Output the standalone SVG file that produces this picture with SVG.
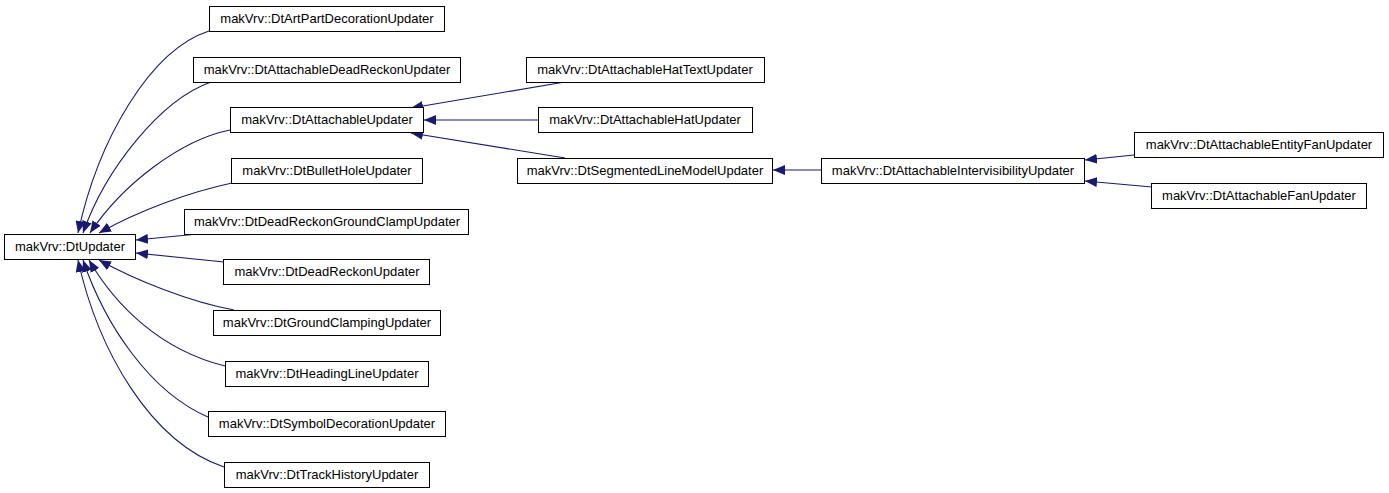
<svg xmlns="http://www.w3.org/2000/svg" width="1389" height="493" viewBox="0 0 1389 493">
<defs>
<style>
.n rect{fill:#ffffff;stroke:#000000;stroke-width:1}
.n text{font-family:"Liberation Sans",Arial,sans-serif;font-size:13px;fill:#000000;text-anchor:middle}
.e path{fill:none;stroke:#191970;stroke-width:1.1}
</style>
<marker id="ah" markerUnits="userSpaceOnUse" viewBox="0 0 12 10" refX="12" refY="5" markerWidth="12" markerHeight="10" orient="auto">
<path d="M0,0 L12,5 L0,10 Z" fill="#191970"/>
</marker>
</defs>
<rect width="1389" height="493" fill="#ffffff"/>
<g id="edges" class="e">
<path d="M209,31 C150,50 98,140 78,233" marker-end="url(#ah)"/>
<path d="M211,82 C160,100 105,170 83,233" marker-end="url(#ah)"/>
<path d="M230,130 C180,140 122,185 90,233" marker-end="url(#ah)"/>
<path d="M232,183 C190,192 140,210 99,233" marker-end="url(#ah)"/>
<path d="M198,234 L136,240" marker-end="url(#ah)"/>
<path d="M224,262 L136,253" marker-end="url(#ah)"/>
<path d="M234,310 C190,302 135,280 99,260" marker-end="url(#ah)"/>
<path d="M225,366 C160,350 115,305 89,260" marker-end="url(#ah)"/>
<path d="M208,417 C150,392 105,325 83,260" marker-end="url(#ah)"/>
<path d="M224,467 C150,442 98,350 78,260" marker-end="url(#ah)"/>
<path d="M565,82 L411,108" marker-end="url(#ah)"/>
<path d="M538,120 L424,120" marker-end="url(#ah)"/>
<path d="M565,158 L411,133" marker-end="url(#ah)"/>
<path d="M821,170 L773,170" marker-end="url(#ah)"/>
<path d="M1134,155 L1085,160" marker-end="url(#ah)"/>
<path d="M1152,187 L1085,181" marker-end="url(#ah)"/>
</g>
<g id="DtUpdater" class="n"><rect x="4.5" y="234.5" width="131" height="25"/><text x="70" y="251">makVrv::DtUpdater</text></g>
<g id="DtArtPartDecorationUpdater" class="n"><rect x="209.5" y="6.5" width="235" height="25"/><text x="327" y="23">makVrv::DtArtPartDecorationUpdater</text></g>
<g id="DtAttachableDeadReckonUpdater" class="n"><rect x="193.5" y="57.5" width="267" height="25"/><text x="327" y="74">makVrv::DtAttachableDeadReckonUpdater</text></g>
<g id="DtAttachableUpdater" class="n"><rect x="230.5" y="107.5" width="193" height="25"/><text x="327" y="124">makVrv::DtAttachableUpdater</text></g>
<g id="DtBulletHoleUpdater" class="n"><rect x="231.5" y="158.5" width="191" height="25"/><text x="327" y="175">makVrv::DtBulletHoleUpdater</text></g>
<g id="DtDeadReckonGroundClampUpdater" class="n"><rect x="184.5" y="209.5" width="284" height="25"/><text x="327" y="226">makVrv::DtDeadReckonGroundClampUpdater</text></g>
<g id="DtDeadReckonUpdater" class="n"><rect x="223.5" y="259.5" width="206" height="25"/><text x="327" y="276">makVrv::DtDeadReckonUpdater</text></g>
<g id="DtGroundClampingUpdater" class="n"><rect x="213.5" y="310.5" width="227" height="25"/><text x="327" y="327">makVrv::DtGroundClampingUpdater</text></g>
<g id="DtHeadingLineUpdater" class="n"><rect x="225.5" y="361.5" width="203" height="25"/><text x="327" y="378">makVrv::DtHeadingLineUpdater</text></g>
<g id="DtSymbolDecorationUpdater" class="n"><rect x="208.5" y="411.5" width="237" height="25"/><text x="327" y="428">makVrv::DtSymbolDecorationUpdater</text></g>
<g id="DtTrackHistoryUpdater" class="n"><rect x="224.5" y="462.5" width="205" height="25"/><text x="327" y="479">makVrv::DtTrackHistoryUpdater</text></g>
<g id="DtAttachableHatTextUpdater" class="n"><rect x="526.5" y="57.5" width="238" height="25"/><text x="645" y="74">makVrv::DtAttachableHatTextUpdater</text></g>
<g id="DtAttachableHatUpdater" class="n"><rect x="538.5" y="107.5" width="214" height="25"/><text x="645" y="124">makVrv::DtAttachableHatUpdater</text></g>
<g id="DtSegmentedLineModelUpdater" class="n"><rect x="517.5" y="158.5" width="255" height="25"/><text x="645" y="175">makVrv::DtSegmentedLineModelUpdater</text></g>
<g id="DtAttachableIntervisibilityUpdater" class="n"><rect x="821.5" y="158.5" width="263" height="25"/><text x="953" y="175">makVrv::DtAttachableIntervisibilityUpdater</text></g>
<g id="DtAttachableEntityFanUpdater" class="n"><rect x="1134.5" y="132.5" width="249" height="25"/><text x="1259" y="149">makVrv::DtAttachableEntityFanUpdater</text></g>
<g id="DtAttachableFanUpdater" class="n"><rect x="1151.5" y="183.5" width="215" height="25"/><text x="1259" y="200">makVrv::DtAttachableFanUpdater</text></g>
</svg>
